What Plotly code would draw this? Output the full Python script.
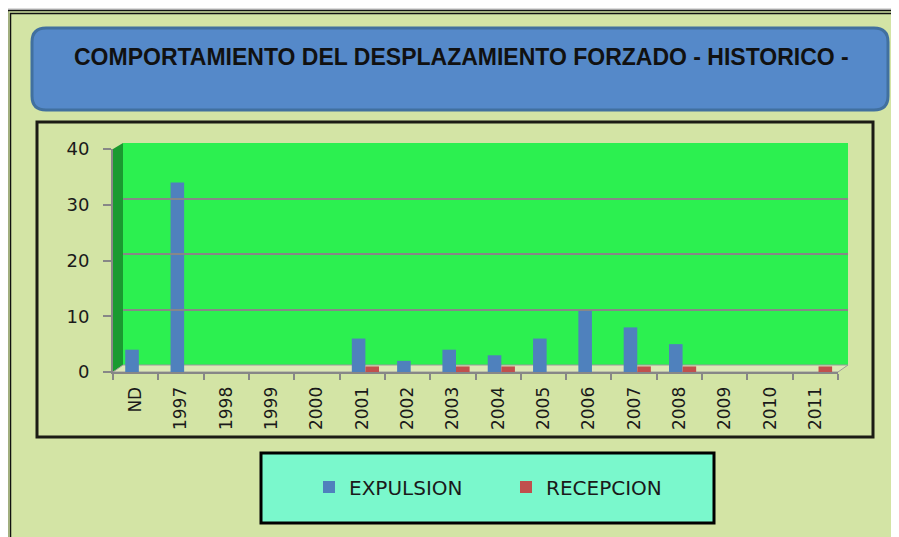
import plotly.graph_objects as go

categories = ["ND", "1997", "1998", "1999", "2000", "2001", "2002", "2003",
              "2004", "2005", "2006", "2007", "2008", "2009", "2010", "2011"]
expulsion = [4, 34, 0, 0, 0, 6, 2, 4, 3, 6, 11, 8, 5, 0, 0, 0]
recepcion = [0, 0, 0, 0, 0, 1, 0, 1, 1, 0, 0, 1, 1, 0, 0, 1]
y_ticks = [0, 10, 20, 30, 40]
title_text = "COMPORTAMIENTO DEL DESPLAZAMIENTO FORZADO - HISTORICO -"

W, H = 899, 537
OFF = 8  # page body margin


def X(px):
    return (px - OFF) / W


def Y(py):
    return 1 - (py - OFF) / H


BG = "#d3e4a5"
GRID = "#878787"

fig = go.Figure()
fig.add_trace(go.Bar(
    x=categories, y=expulsion, name="EXPULSION",
    width=0.3, offset=-0.23,
    marker=dict(color="#4f81bd", line=dict(width=0)),
))
fig.add_trace(go.Bar(
    x=categories, y=recepcion, name="RECEPCION",
    width=0.3, offset=0.07,
    marker=dict(color="#c0504d", line=dict(width=0)),
))
# back wall subplot for gridlines
fig.add_trace(go.Scatter(x=[], y=[], xaxis="x2", yaxis="y2", showlegend=False,
                         hoverinfo="skip"))


def rounded(x0, y0, x1, y1, r):
    rx, ry = r / W, r / H
    a, b, c, d = X(x0), Y(y0), X(x1), Y(y1)
    return (f"M{a+rx},{b} L{c-rx},{b} Q{c},{b} {c},{b-ry} L{c},{d+ry} "
            f"Q{c},{d} {c-rx},{d} L{a+rx},{d} Q{a},{d} {a},{d+ry} "
            f"L{a},{b-ry} Q{a},{b} {a+rx},{b} Z")


def poly(pts):
    return "M" + " L".join(f"{X(x)},{Y(y)}" for x, y in pts) + " Z"


shapes = [
    # top shadow strip
    dict(type="rect", xref="paper", yref="paper", x0=-0.05, x1=1.05, y0=Y(10), y1=1.05,
         fillcolor="#dcdcdc", line=dict(width=0), layer="below"),
    # outer double border
    dict(type="rect", xref="paper", yref="paper", x0=X(7.5), x1=1.05, y0=-0.05, y1=Y(10.5),
         line=dict(color="#111111", width=1.5), layer="below"),
    dict(type="rect", xref="paper", yref="paper", x0=X(10.5), x1=1.05, y0=-0.05, y1=Y(13.5),
         line=dict(color="#111111", width=1.5), layer="below"),
    # title box
    dict(type="path", xref="paper", yref="paper", path=rounded(32, 28, 888, 110, 14),
         fillcolor="#5589c9", line=dict(color="#41709f", width=3), layer="below"),
    # chart box
    dict(type="rect", xref="paper", yref="paper", x0=X(37), x1=X(873), y0=Y(437), y1=Y(122),
         line=dict(color="#1b1b14", width=3), layer="below"),
    # back wall
    dict(type="rect", xref="paper", yref="paper", x0=X(123), x1=X(848), y0=Y(365), y1=Y(143),
         fillcolor="#2cf050", line=dict(width=0), layer="below"),
    # left wall
    dict(type="path", xref="paper", yref="paper",
         path=poly([(113, 149), (123, 143), (123, 365), (113, 372)]),
         fillcolor="#1a9a30", line=dict(width=0), layer="below"),
    # floor
    dict(type="path", xref="paper", yref="paper",
         path=poly([(113, 372), (838, 372), (848, 365), (123, 365)]),
         fillcolor="#dce8b6", line=dict(color="#9a9a9a", width=1), layer="below"),
    # legend box
    dict(type="rect", xref="paper", yref="paper", x0=X(261), x1=X(714), y0=Y(523), y1=Y(453),
         fillcolor="#7af8cc", line=dict(color="#000000", width=3), layer="below"),
]

fig.update_layout(
    width=W, height=H,
    template="none",
    paper_bgcolor=BG,
    plot_bgcolor="rgba(0,0,0,0)",
    margin=dict(l=0, r=0, t=0, b=0),
    barmode="group",
    shapes=shapes,
    showlegend=True,
    legend=dict(orientation="h", x=X(309), xanchor="left", y=Y(487), yanchor="middle",
                bgcolor="rgba(0,0,0,0)", borderwidth=0,
                font=dict(family="DejaVu Sans", size=20, color="#1a1a1a"),
                entrywidth=152, entrywidthmode="pixels"),
    annotations=[dict(text=title_text, xref="paper", yref="paper", x=X(461), y=Y(57),
                      xanchor="center", yanchor="middle", showarrow=False,
                      font=dict(family="Liberation Sans", size=23, color="#111111",
                                weight="bold"))],
    xaxis=dict(domain=[X(113), X(838)], anchor="y", type="category",
               tickson="boundaries", ticks="outside", ticklen=6, tickwidth=2,
               tickcolor=GRID, showline=True, linecolor=GRID, linewidth=2,
               showgrid=False, zeroline=False, tickangle=-90, automargin=False,
               tickfont=dict(family="DejaVu Sans", size=17, color="#1a1a1a"),
               ticklabelstandoff=6),
    yaxis=dict(domain=[Y(372), Y(149)], anchor="x", range=[0, 40],
               tickvals=y_ticks, ticks="outside", ticklen=8, tickwidth=2,
               tickcolor=GRID, showline=True, linecolor=GRID, linewidth=2,
               showgrid=False, zeroline=False, automargin=False,
               tickfont=dict(family="DejaVu Sans", size=18, color="#1a1a1a"),
               ticklabelstandoff=10),
    xaxis2=dict(domain=[X(123), X(848)], anchor="y2", showticklabels=False,
                showgrid=False, zeroline=False, showline=False, ticks=""),
    yaxis2=dict(domain=[Y(365), Y(143)], anchor="x2", range=[0, 40],
                tickvals=y_ticks, showticklabels=False, ticks="",
                showgrid=True, gridcolor=GRID, gridwidth=2, zeroline=False,
                showline=False),
)

fig.write_html("out.html")
